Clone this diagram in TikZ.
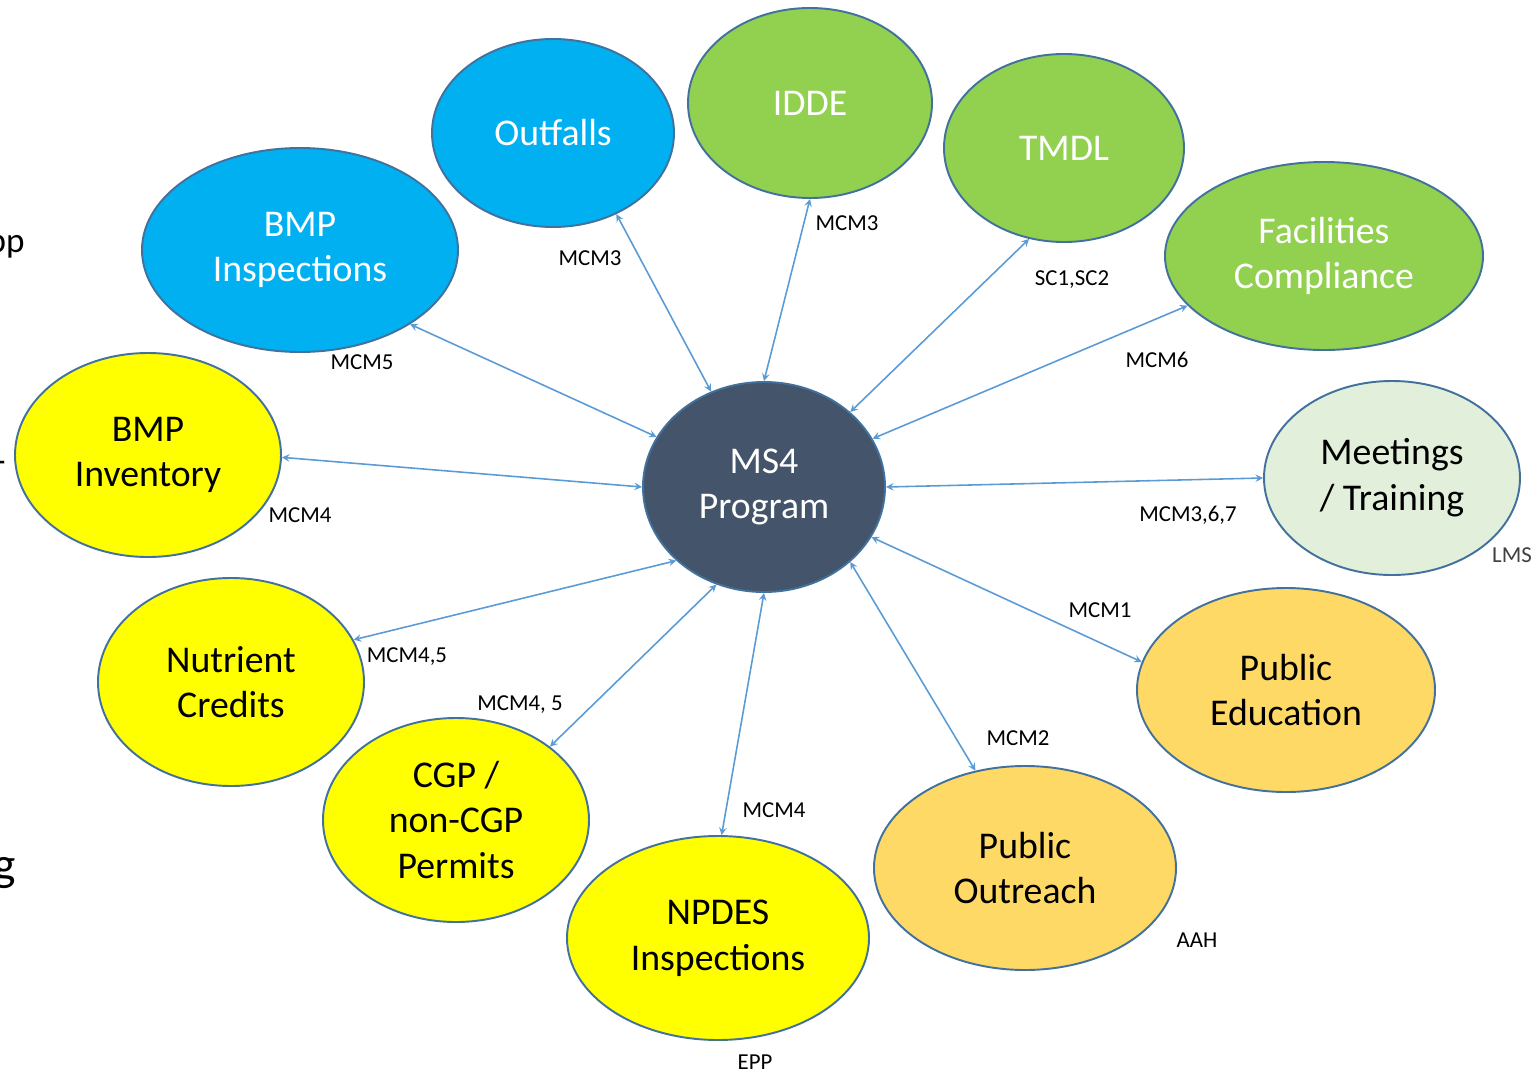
\documentclass[tikz,border=0pt]{standalone}
\usepackage{fontspec}
\setmainfont{Carlito}
\usepackage{tikz}
\usetikzlibrary{shapes}
\definecolor{skyfill}{HTML}{00B0F0}
\definecolor{leaffill}{HTML}{92D050}
\definecolor{slatefill}{HTML}{44546A}
\definecolor{lemonfill}{HTML}{FFFF00}
\definecolor{sandfill}{HTML}{FFD966}
\definecolor{palefill}{HTML}{E2EFDA}
\definecolor{rimcol}{HTML}{41719C}
\definecolor{linkcol}{HTML}{5B9BD5}
\newcommand{\PB}[0]{skyfill}
\newcommand{\PG}[0]{leaffill}
\newcommand{\PY}[0]{lemonfill}
\newcommand{\PO}[0]{sandfill}
\tikzset{
  bubble/.style 2 args={ellipse, draw=rimcol, line width=1.1pt, inner sep=0pt,
    minimum width=#1*0.02cm, minimum height=#2*0.02cm, align=center,
    font=\fontsize{21.5}{26}\selectfont},
  link/.style={<->, draw=linkcol, line width=0.9pt},
  tag/.style={font=\fontsize{13}{15}\selectfont, inner sep=0pt}
}

\begin{document}
\begin{tikzpicture}[x=0.02cm, y=-0.02cm, >=stealth]

  \useasboundingbox (0,0) rectangle (1536,1072);

  %% hub
  \node[bubble={242}{210}, fill=slatefill, text=white] (ms4) at (764,487) {MS4\\Program};

  %% outer ring
  \node[bubble={316}{204}, fill=\PB, text=white] (bmpinsp) at (300,250) {BMP\\Inspections};
  \node[bubble={242}{188}, fill=\PB, text=white] (outfalls) at (553,133) {Outfalls};
  \node[bubble={244}{190}, fill=\PG, text=white] (idde) at (810,103) {IDDE};
  \node[bubble={240}{188}, fill=\PG, text=white] (tmdl) at (1064,148) {TMDL};
  \node[bubble={318}{188}, fill=\PG, text=white] (facil) at (1324,256) {Facilities\\Compliance};
  \node[bubble={256}{194}, fill=palefill] (meet) at (1392,478) {Meetings\\/ Training};
  \node[bubble={298}{204}, fill=\PO] (pubedu) at (1286,690) {Public\\Education};
  \node[bubble={302}{204}, fill=\PO] (pubout) at (1025,868) {Public\\Outreach};
  \node[bubble={302}{204}, fill=\PY] (npdes) at (718,938) {NPDES\\Inspections};
  \node[bubble={266}{204}, fill=\PY] (cgp) at (456,820) {CGP /\\non-CGP\\Permits};
  \node[bubble={266}{208}, fill=\PY] (nutr) at (231,682) {Nutrient\\Credits};
  \node[bubble={266}{204}, fill=\PY] (bmpinv) at (148,455) {BMP\\Inventory};

  %% spokes
  \draw[link] (ms4.155) -- (bmpinsp.-34);
  \draw[link] (ms4.119) -- (outfalls.-52);
  \draw[link] (ms4.90) -- (idde.-90);
  \draw[link] (ms4.41) -- (tmdl.-111);
  \draw[link] (ms4.24) -- (facil.200);
  \draw[link] (ms4.0) -- (meet.180);
  \draw[link] (ms4.-25) -- (pubedu.169);
  \draw[link] (ms4.-41) -- (pubout.117);
  \draw[link] (ms4.-90) -- (npdes.88);
  \draw[link] (ms4.-116) -- (cgp.38);
  \draw[link] (ms4.-140) -- (nutr.19);
  \draw[link] (ms4.180) -- (bmpinv.-1);

  %% spoke tags
  \node[tag] (tbmpinsp) at (362,362) {MCM5};
  \node[tag] (toutfalls) at (590,258) {MCM3};
  \node[tag] (tidde) at (847,223) {MCM3};
  \node[tag] (ttmdl) at (1072,280) {SC1,SC2};
  \node[tag] (tfacil) at (1157,360) {MCM6};
  \node[tag] (tmeet) at (1188,515) {MCM3,6,7};
  \node[tag] (tpubedu) at (1100,610) {MCM1};
  \node[tag] (tpubout) at (1018,738) {MCM2};
  \node[tag] (tnpdes) at (774,810) {MCM4};
  \node[tag] (tcgp) at (520,705) {MCM4, 5};
  \node[tag] (tnutr) at (407,657) {MCM4,5};
  \node[tag] (tbmpinv) at (300,515) {MCM4};

  %% owner tags
  \node[tag, text=black!75] (omeet) at (1512,555) {LMS};
  \node[tag] (opubout) at (1197,940) {AAH};
  \node[tag] (onpdes) at (755,1062) {EPP};

  %% clipped text at the left edge
  \node[anchor=base east, inner sep=0pt, font=\fontsize{20}{24}\selectfont] (edgea) at (25,252) {pp};
  \node[anchor=east, inner sep=0pt, font=\fontsize{20}{24}\selectfont] (edgeb) at (6,467) {-};
  \node[anchor=base east, inner sep=0pt, font=\fontsize{27}{32}\selectfont] (edgec) at (16,880) {g};

\end{tikzpicture}
\end{document}
